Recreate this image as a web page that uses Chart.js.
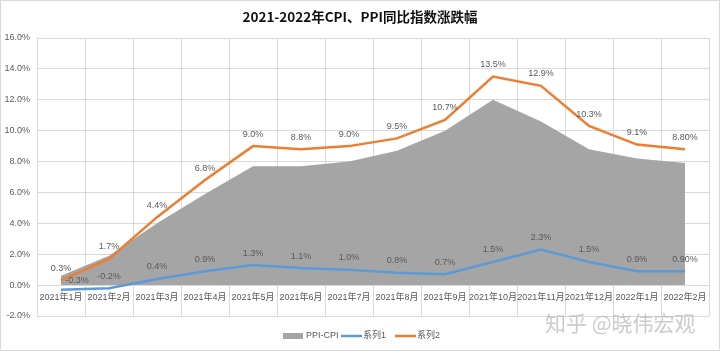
<!DOCTYPE html>
<html>
<head>
<meta charset="utf-8">
<script src="https://cdn.jsdelivr.net/npm/chart.js@4/dist/chart.umd.min.js"></script>
<style>
  html, body { margin: 0; padding: 0; background: #fff; }
  #wrap { width: 720px; height: 351px; }
</style>
</head>
<body>
<div id="wrap"><canvas id="cpiChart" width="720" height="351"></canvas></div>
<script>
// 数据
const months = ['2021年1月', '2021年2月', '2021年3月', '2021年4月', '2021年5月', '2021年6月', '2021年7月',
  '2021年8月', '2021年9月', '2021年10月', '2021年11月', '2021年12月', '2022年1月', '2022年2月'];
const spread = [0.6, 1.9, 4.0, 5.9, 7.7, 7.7, 8.0, 8.7, 10.0, 12.0, 10.6, 8.8, 8.2, 7.9];   // PPI-CPI
const cpi = [-0.3, -0.2, 0.4, 0.9, 1.3, 1.1, 1.0, 0.8, 0.7, 1.5, 2.3, 1.5, 0.9, 0.9];       // 系列1
const ppi = [0.3, 1.7, 4.4, 6.8, 9.0, 8.8, 9.0, 9.5, 10.7, 13.5, 12.9, 10.3, 9.1, 8.8];    // 系列2
const cpiLabels = ['-0.3%', '-0.2%', '0.4%', '0.9%', '1.3%', '1.1%', '1.0%', '0.8%', '0.7%', '1.5%', '2.3%', '1.5%', '0.9%', '0.90%'];
const ppiLabels = ['0.3%', '1.7%', '4.4%', '6.8%', '9.0%', '8.8%', '9.0%', '9.5%', '10.7%', '13.5%', '12.9%', '10.3%', '9.1%', '8.80%'];
const yMin = -2, yMax = 16, yStep = 2;

const COLORS = {
  area: '#a5a5a5',
  blue: '#5b9bd5',
  orange: '#ed7d31',
  grid: '#d9d9d9',
  text: '#595959'
};
const FONT = '"Liberation Sans", "Noto Sans CJK SC", sans-serif';

// 数据标签
const valueLabels = {
  id: 'valueLabels',
  afterDatasetsDraw(chart) {
    const ctx = chart.ctx;
    ctx.save();
    ctx.font = '9px ' + FONT;
    ctx.fillStyle = COLORS.text;
    ctx.textAlign = 'center';
    ctx.textBaseline = 'middle';
    [[1, cpiLabels], [2, ppiLabels]].forEach(([idx, texts]) => {
      chart.getDatasetMeta(idx).data.forEach((pt, i) => {
        // first CPI label is nudged right in the original so it clears the PPI one
        const dx = (idx === 1 && i === 0) ? 16 : 0;
        const dy = (idx === 1 && i === 0) ? -9 : -12;
        ctx.fillText(texts[i], pt.x + dx, pt.y + dy);
      });
    });
    ctx.restore();
  }
};

// 标题、图例、水印、边框
const decorations = {
  id: 'decorations',
  afterDraw(chart) {
    const ctx = chart.ctx;
    ctx.save();
    ctx.fillStyle = '#111';
    ctx.font = 'bold 13.5px "Noto Sans CJK SC", sans-serif';
    ctx.textAlign = 'center';
    ctx.textBaseline = 'middle';
    ctx.fillText('2021-2022年CPI、PPI同比指数涨跌幅', 360, 17);

    // legend
    const ly = 336;
    ctx.font = '9px ' + FONT;
    ctx.textAlign = 'left';
    ctx.fillStyle = COLORS.area;
    ctx.fillRect(283, ly - 3, 20, 6);
    ctx.fillStyle = COLORS.text;
    ctx.fillText('PPI-CPI', 306, ly);
    ctx.lineWidth = 2.5;
    ctx.strokeStyle = COLORS.blue;
    ctx.beginPath(); ctx.moveTo(341, ly); ctx.lineTo(362, ly); ctx.stroke();
    ctx.fillText('系列1', 363, ly);
    ctx.strokeStyle = COLORS.orange;
    ctx.beginPath(); ctx.moveTo(395, ly); ctx.lineTo(416, ly); ctx.stroke();
    ctx.fillText('系列2', 417, ly);

    // watermark
    ctx.font = '21px "Noto Sans CJK SC", sans-serif';
    ctx.fillStyle = 'rgba(190,190,190,0.8)';
    ctx.fillText('知乎 @晓伟宏观', 545, 323);

    ctx.strokeStyle = COLORS.grid;
    ctx.lineWidth = 1;
    ctx.strokeRect(0.5, 0.5, 719, 350);
    ctx.restore();
  }
};

new Chart(document.getElementById('cpiChart'), {
  type: 'line',
  data: {
    labels: months,
    datasets: [
      {
        label: 'PPI-CPI',
        data: spread,
        borderWidth: 0,
        backgroundColor: COLORS.area,
        fill: 'origin',
        pointRadius: 0,
        order: 3
      },
      {
        label: '系列1',
        data: cpi,
        borderColor: COLORS.blue,
        borderWidth: 2.5,
        fill: false,
        pointRadius: 0,
        tension: 0,
        order: 1
      },
      {
        label: '系列2',
        data: ppi,
        borderColor: COLORS.orange,
        borderWidth: 2.5,
        fill: false,
        pointRadius: 0,
        tension: 0,
        order: 2
      }
    ]
  },
  options: {
    responsive: false,
    animation: false,
    layout: { padding: { top: 38, bottom: 35, left: 0, right: 11 } },
    plugins: {
      legend: { display: false },
      title: { display: false },
      tooltip: { enabled: false }
    },
    scales: {
      x: {
        position: { y: 0 },
        offset: true,
        grid: { offset: true, color: COLORS.grid, drawTicks: false },
        border: { color: COLORS.grid },
        ticks: { color: COLORS.text, font: { size: 9, family: FONT }, padding: 7, maxRotation: 0, autoSkip: false }
      },
      y: {
        min: yMin,
        max: yMax,
        grid: { color: COLORS.grid, drawTicks: false },
        border: { display: false },
        ticks: {
          stepSize: yStep,
          color: COLORS.text,
          font: { size: 9, family: FONT },
          padding: 7,
          callback: (v) => v.toFixed(1) + '%'
        },
        afterFit(scale) { scale.width = 37; }
      }
    }
  },
  plugins: [valueLabels, decorations]
});
</script>
</body>
</html>
